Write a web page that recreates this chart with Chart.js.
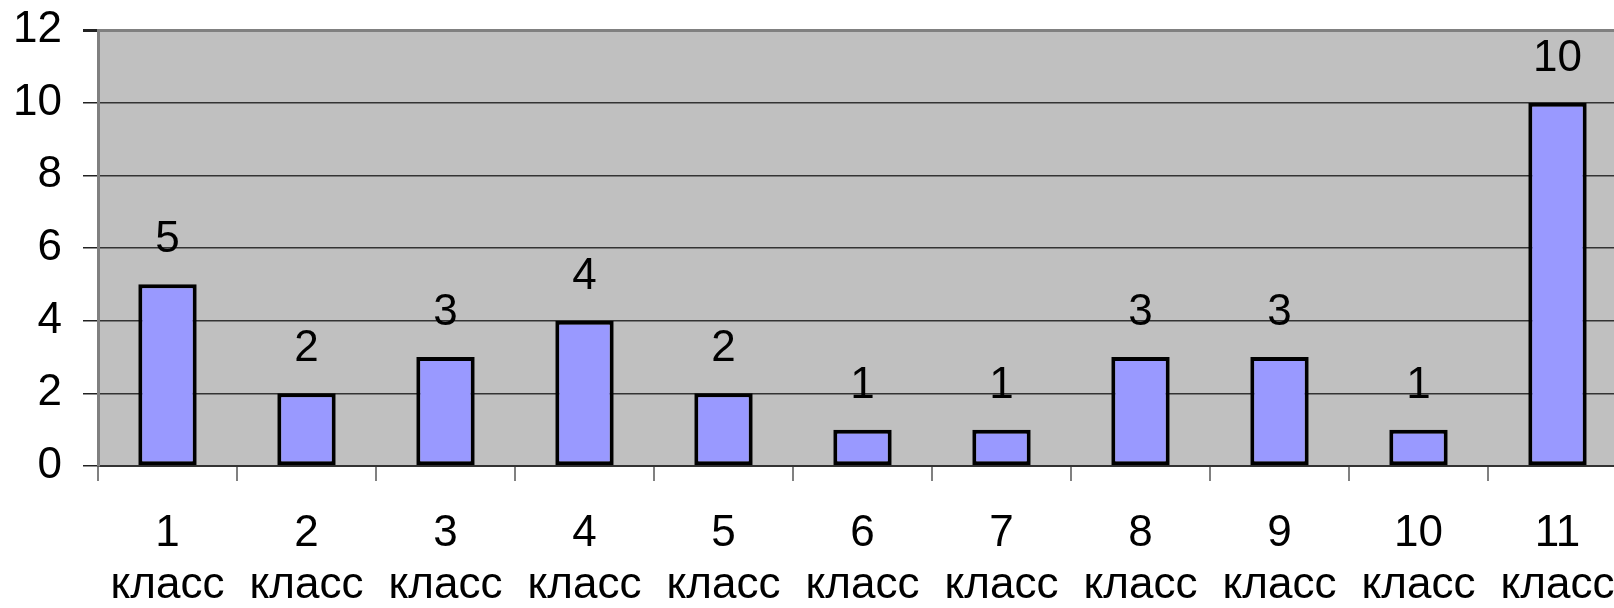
<!DOCTYPE html>
<html>
<head>
<meta charset="utf-8">
<script src="https://cdn.jsdelivr.net/npm/chart.js@4"></script>
<style>
  html, body { margin: 0; padding: 0; background: #fff; overflow: hidden; }
  #wrap { position: relative; width: 1630px; height: 608px; }
</style>
</head>
<body>
<div id="wrap"><canvas id="chart"></canvas></div>
<script>
const grades = ["1", "2", "3", "4", "5", "6", "7", "8", "9", "10", "11"]
const gradeWord = "класс"
const counts = [5, 2, 3, 4, 2, 1, 1, 3, 3, 1, 10]
const yTicks = [0, 2, 4, 6, 8, 10, 12]

const FONT = "'Liberation Sans', Arial, sans-serif"

// grey plot area behind everything
const plotBackground = {
  id: "plotBackground",
  beforeDraw(chart) {
    const { ctx, chartArea: a } = chart
    ctx.save()
    ctx.fillStyle = "#c0c0c0"
    ctx.fillRect(a.left, a.top, a.right - a.left, a.bottom - a.top)
    ctx.restore()
  }
}

// value above each bar
const barValues = {
  id: "barValues",
  afterDatasetsDraw(chart) {
    const { ctx } = chart
    const meta = chart.getDatasetMeta(0)
    ctx.save()
    ctx.font = "44px " + FONT
    ctx.fillStyle = "#000"
    ctx.textAlign = "center"
    ctx.textBaseline = "alphabetic"
    meta.data.forEach((bar, i) => {
      ctx.fillText(String(chart.data.datasets[0].data[i]), bar.x, bar.y - 32)
    })
    ctx.restore()
  }
}

const ctx = document.getElementById("chart").getContext("2d")

new Chart(ctx, {
  type: "bar",
  data: {
    labels: grades.map(g => [g, gradeWord]),
    datasets: [{
      data: counts,
      backgroundColor: "#9999ff",
      borderColor: "#000",
      borderWidth: 4,
      borderSkipped: false,
      barPercentage: 0.42,
      categoryPercentage: 1
    }]
  },
  options: {
    responsive: true,
    maintainAspectRatio: false,
    animation: false,
    layout: { padding: { top: 30, left: 0, right: 3, bottom: 0 } },
    plugins: {
      legend: { display: false },
      tooltip: { enabled: false }
    },
    scales: {
      x: {
        offset: true,
        grid: {
          offset: true,
          drawOnChartArea: false,
          tickLength: 15,
          color: "#808080",
          lineWidth: 2
        },
        border: { display: true, color: "#333", width: 2 },
        ticks: {
          color: "#000",
          padding: 27,
          maxRotation: 0,
          autoSkip: false,
          font: { family: FONT, size: 44, lineHeight: 1.18 }
        },
        afterFit(scale) {
          scale.height = 142
          scale.paddingLeft = 0
          scale.paddingRight = 0
        }
      },
      y: {
        min: yTicks[0],
        max: yTicks[yTicks.length - 1],
        afterBuildTicks(scale) { scale.ticks = yTicks.map(v => ({ value: v })) },
        grid: {
          tickLength: 15,
          color: c => c.tick && c.tick.value === 12 ? "#808080" : "#333",
          lineWidth: c => c.tick && c.tick.value === 12 ? 3 : 1.5,
          tickColor: "#222"
        },
        border: { display: true, color: "#808080", width: 3 },
        ticks: {
          color: "#000",
          padding: 21,
          font: { family: FONT, size: 44 }
        },
        afterFit(scale) {
          scale.width = 98
          scale.paddingTop = 0
          scale.paddingBottom = 0
        }
      }
    }
  },
  plugins: [plotBackground, barValues]
})
</script>
</body>
</html>
